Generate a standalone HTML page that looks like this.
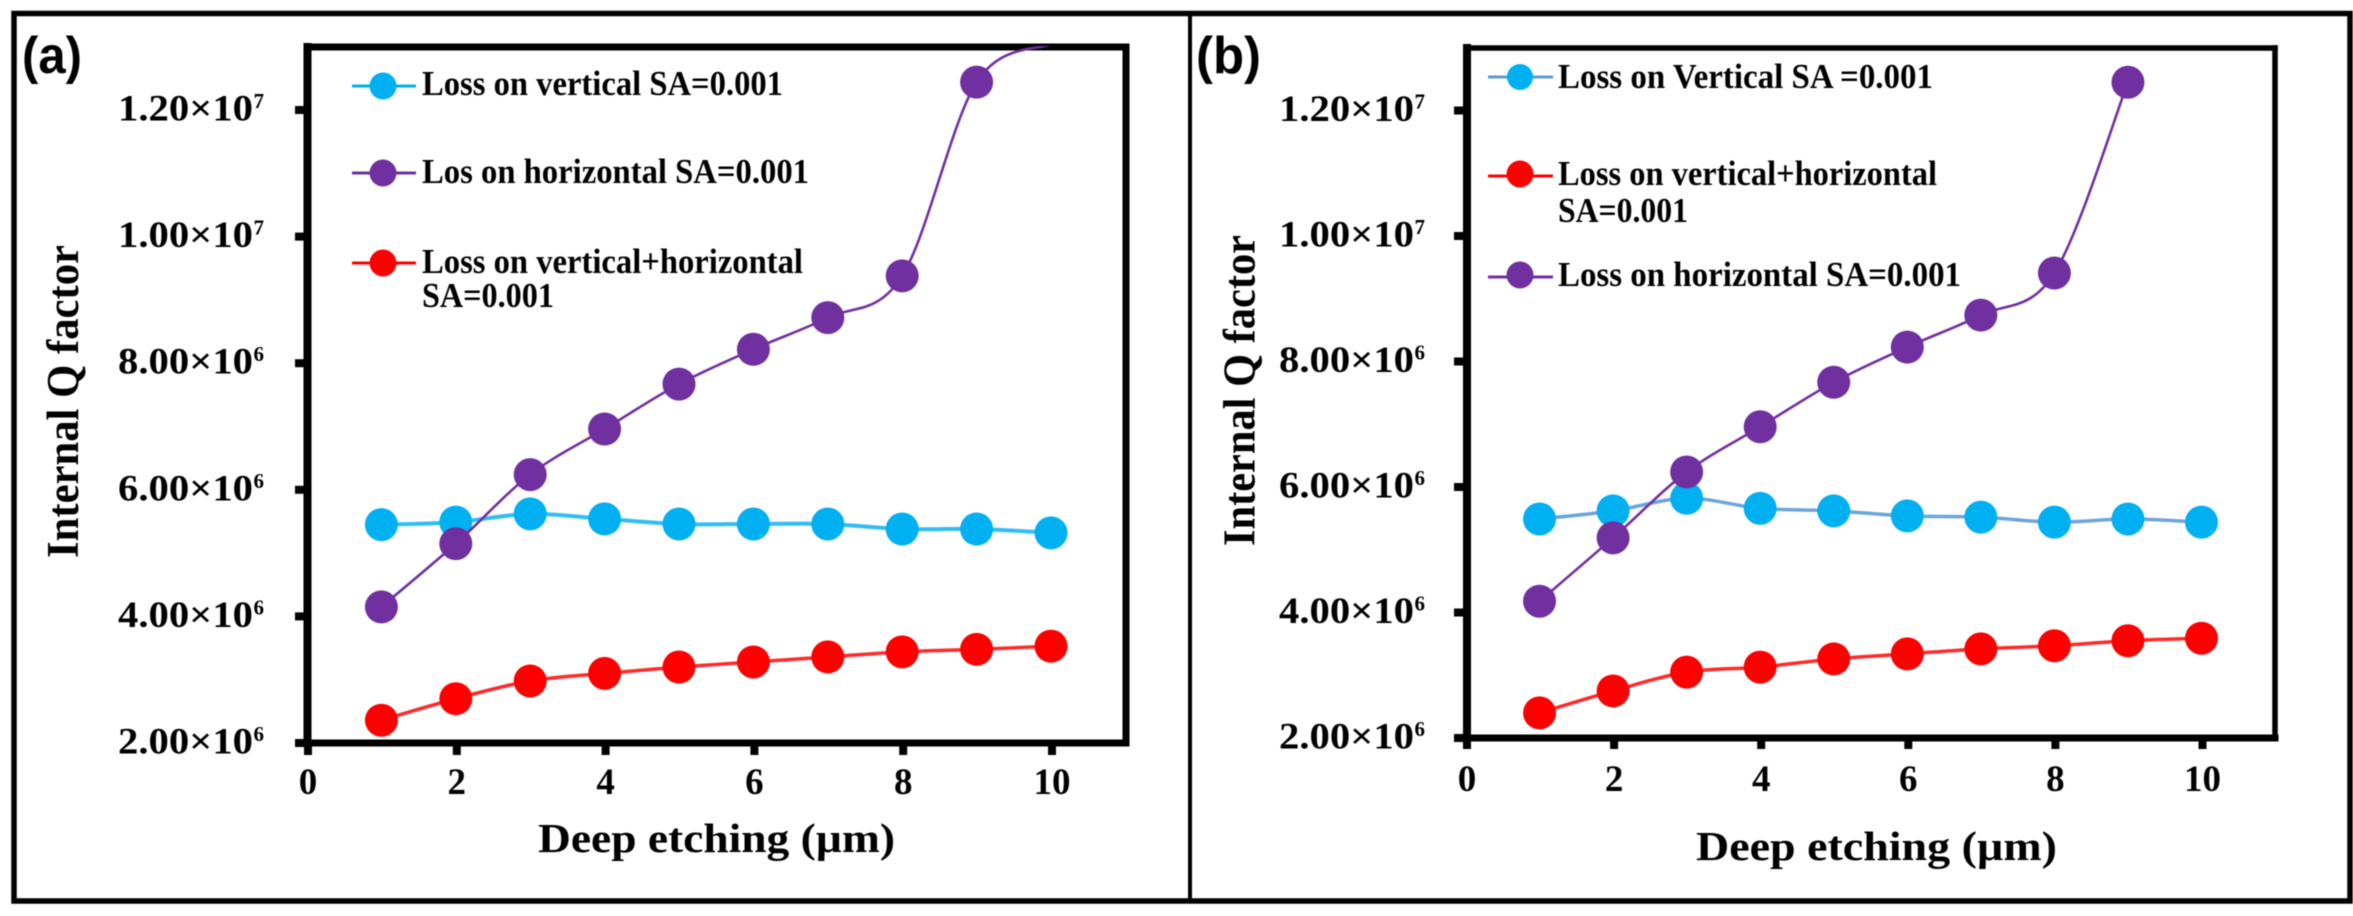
<!DOCTYPE html>
<html lang="en">
<head>
<meta charset="utf-8">
<title>Internal Q factor versus deep etching</title>
<style>
html,body{margin:0;padding:0;background:#fff;width:2353px;height:916px;overflow:hidden}
svg{display:block;filter:blur(0.5px)}
text{font-family:"Liberation Serif",serif;font-weight:bold;fill:#000}
.panel-tag{font-family:"Liberation Sans",sans-serif;font-size:52px}
.legend-text{font-size:35px}
</style>
</head>
<body>
<svg id="figure" xmlns="http://www.w3.org/2000/svg" width="2353" height="916" viewBox="0 0 2353 916">
  <rect x="0" y="0" width="2353" height="916" fill="#fff"/>
  <rect x="14" y="13.5" width="2336" height="887.5" fill="none" stroke="#000" stroke-width="5.5"/>
  <line x1="1190" y1="13" x2="1190" y2="901" stroke="#000" stroke-width="4"/>

  <text class="panel-tag" x="22" y="73" textLength="60" lengthAdjust="spacingAndGlyphs">(a)</text>
  <text class="panel-tag" x="1196" y="73" textLength="65" lengthAdjust="spacingAndGlyphs">(b)</text>

  <g id="panel-a"></g>
  <g id="panel-b"></g>

  <g>
    <g>
      <line x1="352" y1="86" x2="416" y2="86" stroke="#00b0f0" stroke-width="3"/>
      <circle cx="383" cy="86" r="13.5" fill="#00b0f0"/>
      <text class="legend-text" x="422" y="95" textLength="361" lengthAdjust="spacingAndGlyphs">Loss on vertical SA=0.001</text>
    </g>
    <g>
      <line x1="352" y1="173" x2="416" y2="173" stroke="#7030a0" stroke-width="3"/>
      <circle cx="383" cy="173" r="13.5" fill="#7030a0"/>
      <text class="legend-text" x="422" y="183" textLength="387" lengthAdjust="spacingAndGlyphs">Los on horizontal SA=0.001</text>
    </g>
    <g>
      <line x1="352" y1="263" x2="416" y2="263" stroke="#ff0000" stroke-width="3"/>
      <circle cx="383" cy="263" r="13.5" fill="#ff0000"/>
      <text class="legend-text" x="422" y="273" textLength="381" lengthAdjust="spacingAndGlyphs">Loss on vertical+horizontal</text>
      <text class="legend-text" x="422" y="307" textLength="132" lengthAdjust="spacingAndGlyphs">SA=0.001</text>
    </g>
  </g>

  <g>
    <g>
      <line x1="1488" y1="77" x2="1553" y2="77" stroke="#5b9bd5" stroke-width="3"/>
      <circle cx="1520" cy="77" r="13" fill="#00b0f0"/>
      <text class="legend-text" x="1558" y="88" textLength="375" lengthAdjust="spacingAndGlyphs">Loss on Vertical SA =0.001</text>
    </g>
    <g>
      <line x1="1488" y1="176" x2="1553" y2="176" stroke="#ff0000" stroke-width="3"/>
      <circle cx="1520" cy="174" r="13.5" fill="#ff0000"/>
      <text class="legend-text" x="1558" y="185" textLength="379" lengthAdjust="spacingAndGlyphs">Loss on vertical+horizontal</text>
      <text class="legend-text" x="1558" y="222" textLength="130" lengthAdjust="spacingAndGlyphs">SA=0.001</text>
    </g>
    <g>
      <line x1="1488" y1="277" x2="1553" y2="277" stroke="#7030a0" stroke-width="3"/>
      <circle cx="1520" cy="275" r="13.5" fill="#7030a0"/>
      <text class="legend-text" x="1558" y="286" textLength="403" lengthAdjust="spacingAndGlyphs">Loss on horizontal SA=0.001</text>
    </g>
  </g>
</svg>

<script>
const etchDepths = [1, 2, 3, 4, 5, 6, 7, 8, 9, 10];
const xTickValues = [0, 2, 4, 6, 8, 10];
const yTickValues = [2e6, 4e6, 6e6, 8e6, 1e7, 1.2e7];
const yTickLabels = ['2.00×10', '4.00×10', '6.00×10', '8.00×10', '1.00×10', '1.20×10'];
const yTickExponents = ['6', '6', '6', '6', '7', '7'];

const panelAVertical = [5.45e6, 5.49e6, 5.62e6, 5.54e6, 5.46e6, 5.46e6, 5.46e6, 5.38e6, 5.38e6, 5.32e6];
const panelAHorizontal = [4.15e6, 5.15e6, 6.24e6, 6.96e6, 7.67e6, 8.22e6, 8.72e6, 9.38e6, 1.244e7, 1.304e7];
const panelACombined = [2.36e6, 2.7e6, 2.98e6, 3.1e6, 3.2e6, 3.28e6, 3.36e6, 3.44e6, 3.48e6, 3.53e6];

const panelBVertical = [5.49e6, 5.62e6, 5.82e6, 5.66e6, 5.62e6, 5.54e6, 5.52e6, 5.44e6, 5.49e6, 5.44e6];
const panelBHorizontal = [4.18e6, 5.19e6, 6.24e6, 6.96e6, 7.67e6, 8.23e6, 8.74e6, 9.41e6, 1.245e7];
const panelBCombined = [2.4e6, 2.75e6, 3.05e6, 3.13e6, 3.26e6, 3.34e6, 3.42e6, 3.47e6, 3.55e6, 3.59e6];

const SVG_NS = 'http://www.w3.org/2000/svg';

function make(tag, attrs, parent, content) {
  const node = document.createElementNS(SVG_NS, tag);
  Object.keys(attrs).forEach(function (key) { node.setAttribute(key, attrs[key]); });
  if (content !== undefined) node.textContent = content;
  parent.appendChild(node);
  return node;
}

function smoothPath(points) {
  let d = 'M' + points[0][0] + ' ' + points[0][1];
  for (let i = 0; i < points.length - 1; i++) {
    const p0 = points[Math.max(i - 1, 0)];
    const p1 = points[i];
    const p2 = points[i + 1];
    const p3 = points[Math.min(i + 2, points.length - 1)];
    const c1x = p1[0] + (p2[0] - p0[0]) / 6;
    const c1y = p1[1] + (p2[1] - p0[1]) / 6;
    const c2x = p2[0] - (p3[0] - p1[0]) / 6;
    const c2y = p2[1] - (p3[1] - p1[1]) / 6;
    d += ' C' + c1x + ' ' + c1y + ' ' + c2x + ' ' + c2y + ' ' + p2[0] + ' ' + p2[1];
  }
  return d;
}

function drawPanel(cfg) {
  const root = document.getElementById(cfg.id);
  const xPos = function (v) { return cfg.x0 + v * cfg.xUnit; };
  const yPos = function (v) { return cfg.yBase - (v - 2e6) / 2e6 * cfg.yUnit; };

  const defs = make('defs', {}, root);
  const clip = make('clipPath', { id: cfg.id + '-clip' }, defs);
  make('rect', { x: cfg.left, y: cfg.top - 1, width: cfg.right - cfg.left, height: cfg.bottom - cfg.top + 1 }, clip);

  const axes = make('g', { stroke: '#000', fill: 'none', 'stroke-linecap': 'square' }, root);
  
  
  const topLine = make('line', { x1: cfg.left, y1: cfg.top, x2: cfg.right, y2: cfg.top, 'stroke-width': cfg.topWidth }, axes);
  
  
  const rightLine = make('line', { x1: cfg.right, y1: cfg.top, x2: cfg.right, y2: cfg.bottom, 'stroke-width': cfg.rightWidth }, axes);
  
  
  const leftLine = make('line', { x1: cfg.left, y1: cfg.top, x2: cfg.left, y2: cfg.bottom, 'stroke-width': cfg.leftWidth }, axes);
  
  
  const bottomLine = make('line', { x1: cfg.left, y1: cfg.bottom, x2: cfg.right, y2: cfg.bottom, 'stroke-width': 7 }, axes);
  
  

  cfg.series.forEach(function (s) {
    const group = make('g', { 'clip-path': 'url(#' + cfg.id + '-clip)' }, root);
    
    
    const pts = s.values.map(function (v, i) { return [xPos(etchDepths[i]), yPos(v)]; });
    const curve = make('path', { d: smoothPath(pts), fill: 'none', stroke: s.lineColor, 'stroke-width': s.lineWidth }, group);
    
    
    pts.forEach(function (p, i) {
      if (p[1] < cfg.top) return;
      const dot = make('circle', { cx: p[0], cy: p[1], r: 16.5, fill: s.markerColor }, group);
      
      
    });
  });

  yTickValues.forEach(function (v, i) {
    const y = yPos(v);
    const tick = make('line', { x1: cfg.yTickStart, y1: y, x2: cfg.left, y2: y, stroke: '#000', 'stroke-width': 8 }, root);
    
    
    const label = make('text', { x: cfg.yLabelX, y: y + 10.5, 'font-size': 37, textLength: 135, lengthAdjust: 'spacingAndGlyphs' }, root, yTickLabels[i]);
    
    
    const exponent = make('text', { x: cfg.yLabelX + 135.5, y: y - 2, 'font-size': 21 }, root, yTickExponents[i]);
    
    
  });

  xTickValues.forEach(function (v) {
    const x = xPos(v) + cfg.tickShift;
    const tick = make('line', { x1: x, y1: cfg.bottom, x2: x, y2: cfg.xTickEnd, stroke: '#000', 'stroke-width': 8 }, root);
    
    
    const label = make('text', { x: x, y: cfg.xLabelY, 'font-size': 37, 'text-anchor': 'middle' }, root, String(v));
    
    
  });

  const xTitle = make('text', { x: cfg.xTitleX, y: cfg.xTitleY, 'font-size': 41, textLength: cfg.xTitleLen, lengthAdjust: 'spacingAndGlyphs' }, root, 'Deep etching (µm)');
  
  
  const yTitle = make('text', { transform: 'translate(' + cfg.yTitleX + ' ' + cfg.yTitleY + ') rotate(-90)', 'font-size': 45, textLength: cfg.yTitleLen, lengthAdjust: 'spacingAndGlyphs' }, root, 'Internal Q factor');
  
  
}

drawPanel({
  id: 'panel-a', x0: 307, xUnit: 74.4, yBase: 743, yUnit: 126.6,
  left: 307.5, right: 1126, top: 47, bottom: 743,
  leftWidth: 8, topWidth: 7, rightWidth: 7, tickShift: 1,
  yTickStart: 295, yLabelX: 118, xTickEnd: 755, xLabelY: 794,
  xTitleX: 538, xTitleY: 852, xTitleLen: 357,
  yTitleX: 78, yTitleY: 558, yTitleLen: 313,
  series: [
    { name: 'panel-a-vertical-series', values: panelAVertical, lineColor: '#33bdf2', markerColor: '#00b0f0', lineWidth: 4 },
    { name: 'panel-a-combined-series', values: panelACombined, lineColor: '#ff2a2a', markerColor: '#ff0000', lineWidth: 3.5 },
    { name: 'panel-a-horizontal-series', values: panelAHorizontal, lineColor: '#7030a0', markerColor: '#7030a0', lineWidth: 2.6 }
  ]
});

drawPanel({
  id: 'panel-b', x0: 1466, xUnit: 73.55, yBase: 738, yUnit: 125.5,
  left: 1467, right: 2275, top: 48, bottom: 738,
  leftWidth: 8, topWidth: 5.5, rightWidth: 5.5, tickShift: 1,
  yTickStart: 1454, yLabelX: 1279, xTickEnd: 749, xLabelY: 791,
  xTitleX: 1696, xTitleY: 860, xTitleLen: 361,
  yTitleX: 1254.5, yTitleY: 546, yTitleLen: 311,
  series: [
    { name: 'panel-b-vertical-series', values: panelBVertical, lineColor: '#6ba5da', markerColor: '#00b0f0', lineWidth: 3.5 },
    { name: 'panel-b-combined-series', values: panelBCombined, lineColor: '#ff2a2a', markerColor: '#ff0000', lineWidth: 3.5 },
    { name: 'panel-b-horizontal-series', values: panelBHorizontal, lineColor: '#7030a0', markerColor: '#7030a0', lineWidth: 2.6 }
  ]
});
</script>
</body>
</html>
